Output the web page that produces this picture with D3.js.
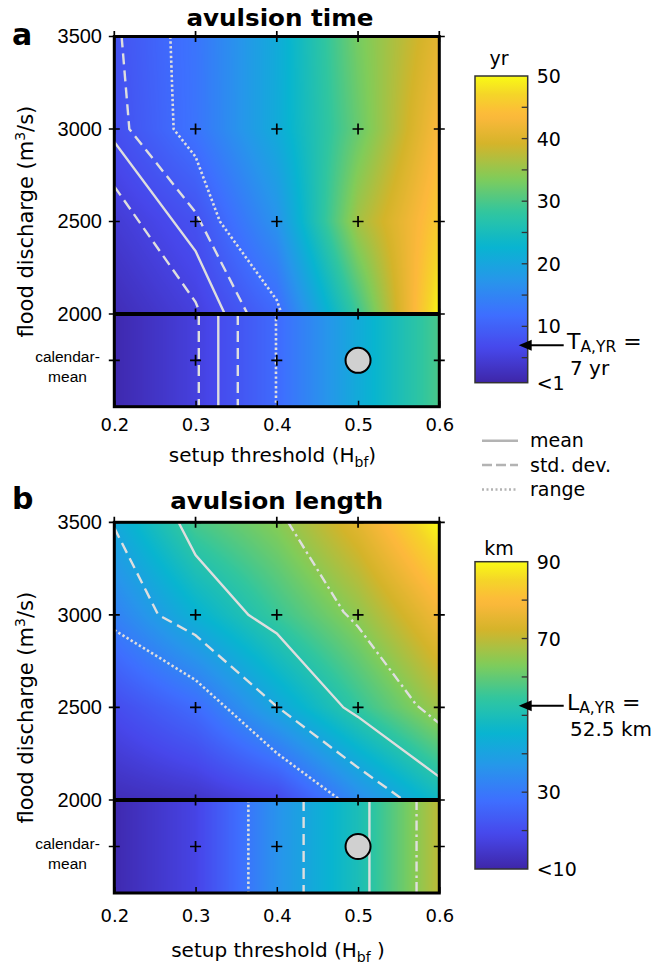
<!DOCTYPE html>
<html><head><meta charset="utf-8">
<script src="https://cdn.jsdelivr.net/npm/d3@7"></script>
<style>body{margin:0;background:#fff}</style>
</head><body>
<svg id="chart" width="656" height="967"></svg>
<script>
// ================= DATA =================
const setupThresholds = [0.2, 0.3, 0.4, 0.5, 0.6];
const floodDischarges = [3500, 3000, 2500, 2000];
const calendarLabel = "calendar-mean";
const calendarMarker = 0.5;   // setup threshold of the calendar-mean reference run

// avulsion time (yr) — rows follow floodDischarges
const timeGrid = [
  [8.0, 12.7, 21, 33, 41],
  [7.5, 12.6, 21, 32, 43.5],
  [4.5, 7.8, 17, 36, 46],
  [2.2, 5.3, 11, 29, 50]
];
const timeCalendar = [1.5, 5.3, 11.3, 21, 30];
// contour lines: [setup threshold, flood discharge]
const timeMean    = [[0.2,2930],[0.3,2340],[0.336,2000]];
const timeStdLow  = [[0.2,2690],[0.3,2065],[0.306,2000]];
const timeStdHigh = [[0.209,3500],[0.2185,3000],[0.3,2550],[0.364,2000]];
const timeRange   = [[0.269,3500],[0.273,3000],[0.3,2850],[0.33,2500],[0.4,2075],[0.406,2000]];
const timeCalendarLines = {stdLow:0.304, mean:0.328, stdHigh:0.352, range:0.399};
const timeTicks = [1,10,20,30,40,50];
const timeTickLabels = ["<1","10","20","30","40","50"];
const timeMinorTicks = [5,15,25,35,45];
const timeYR = 7;

// avulsion length (km)
const lengthGrid = [
  [42, 57, 64, 75, 90],
  [32, 44.5, 55.3, 65, 78],
  [20, 27, 41.2, 54.6, 66.8],
  [12, 14, 18.7, 34.2, 47.7]
];
const lengthCalendar = [11, 18, 36, 50, 70];
const lengthMean    = [[0.279,3500],[0.3,3323],[0.365,3000],[0.4,2900],[0.482,2500],[0.5,2449],[0.6,2125]];
const lengthStdLow  = [[0.2,3470],[0.254,3000],[0.3,2890],[0.4,2505],[0.5,2175],[0.556,2000]];
const lengthStdHigh = [[0.414,3500],[0.482,3017],[0.5,2936],[0.572,2512],[0.6,2414]];
const lengthRange   = [[0.2,2918],[0.3,2648],[0.4,2253],[0.478,2000]];
const lengthCalendarLines = {stdLow:0.433, mean:0.514, stdHigh:0.572, range:0.365};
const lengthTicks = [10,30,70,90];
const lengthTickLabels = ["<10","30","70","90"];
const lengthMinorTicks = [20,40,50,60,80];
const lengthYR = 52.5;

const legendItems = ["mean","std. dev.","range"];

// parula-like colormap
const parulaStops  = [0,0.111,0.222,0.333,0.444,0.556,0.667,0.778,0.87,0.94,1];
const parulaColors = ["#3e26a8","#4747eb","#3e6fff","#2796eb","#08b5d0","#31c69f","#81cc59","#d4b42a","#fdb83c","#f5d528","#f9fb15"];

// ================= DRAWING =================
const svg = d3.select("#chart");
svg.append("rect").attr("width",656).attr("height",967).attr("fill","#fff");
const parula = d3.scaleLinear().domain(parulaStops).range(parulaColors).interpolate(d3.interpolateRgb).clamp(true);
const LUT = d3.range(512).map(i => d3.rgb(parula(i/511)));

const FONT = "'DejaVu Sans', sans-serif";
const FONT2 = "'Liberation Sans', Arial, sans-serif";
const lineColor = "#dedede";

const panels = [
  {letter:"a", title:"avulsion time", titleLen:187, grid:timeGrid, cal:timeCalendar,
   lines:{mean:timeMean, stdLow:timeStdLow, stdHigh:timeStdHigh, range:timeRange}, calLines:timeCalendarLines,
   cDomain:[1,50], ticks:timeTicks, tickLabels:timeTickLabels, minor:timeMinorTicks, unit:"yr",
   yr:timeYR, sym:"T", yrText:"7 yr", highDash:"11,6", xSpace:"",
   L:{top:36.5, y2000:314, bottom:406.7, cbTop:76, cbBottom:382.7, titleX:280, titleY:26, letterY:45,
      xTickPad:12, xTitleY:462, xTitleX:272.5, yTitleY:221.6, unitY:65, annoY:349, anno2Y:375}},
  {letter:"b", title:"avulsion length", titleLen:213, grid:lengthGrid, cal:lengthCalendar,
   lines:{mean:lengthMean, stdLow:lengthStdLow, stdHigh:lengthStdHigh, range:lengthRange}, calLines:lengthCalendarLines,
   cDomain:[10,90], ticks:lengthTicks, tickLabels:lengthTickLabels, minor:lengthMinorTicks, unit:"km",
   yr:lengthYR, sym:"L", yrText:"52.5 km", highDash:"10,4,2.5,4", xSpace:" ",
   L:{top:522.3, y2000:800, bottom:893, cbTop:561.7, cbBottom:869, titleX:276.7, titleY:509.3, letterY:509.3,
      xTickPad:16, xTitleY:957, xTitleX:278, yTitleY:707.7, unitY:555, annoY:710, anno2Y:736}}
];
const xLeft = 114.3, xRight = 439.3, cbLeft = 475, cbRight = 527.7;
const dashes = {mean:null, stdLow:"11,6", range:"2.4,2.4"};

function idx(arr, v){
  let i = d3.bisectRight(arr, v) - 1;
  i = Math.max(0, Math.min(arr.length-2, i));
  const t = Math.max(0, Math.min(1, (v-arr[i])/(arr[i+1]-arr[i])));
  return [i,t];
}

panels.forEach((p, pi) => {
  const L = p.L;
  const g = svg.append("g");
  const x = d3.scaleLinear().domain([0.2,0.6]).range([xLeft,xRight]);
  const y = d3.scaleLinear().domain([2000,3500]).range([L.y2000, L.top]);
  const band = d3.scaleBand().domain([calendarLabel]).range([L.y2000, L.bottom]);
  const bandMid = band(calendarLabel) + band.bandwidth()/2;
  const cNorm = d3.scaleLinear().domain(p.cDomain).range([0,1]).clamp(true);

  // ---- heatmap raster ----
  const qAsc = floodDischarges.slice().reverse();
  const gridAsc = p.grid.slice().reverse();
  const w = Math.round(xRight-xLeft), h = Math.round(L.bottom-L.top);
  const cv = document.createElement("canvas"); cv.width = w; cv.height = h;
  const ctx = cv.getContext("2d"); const img = ctx.createImageData(w,h);
  for (let j=0;j<h;j++){
    const py = L.top + (j+0.5)*(L.bottom-L.top)/h;
    for (let i=0;i<w;i++){
      const px = xLeft + (i+0.5)*(xRight-xLeft)/w;
      const sx = x.invert(px);
      const [ix,tx] = idx(setupThresholds, sx);
      let v;
      if (py <= L.y2000){
        const [iy,ty] = idx(qAsc, y.invert(py));
        const a = gridAsc[iy][ix]*(1-tx)+gridAsc[iy][ix+1]*tx;
        const b = gridAsc[iy+1][ix]*(1-tx)+gridAsc[iy+1][ix+1]*tx;
        v = a*(1-ty)+b*ty;
      } else {
        v = p.cal[ix]*(1-tx)+p.cal[ix+1]*tx;
      }
      const c = LUT[Math.round(cNorm(v)*511)];
      const k = (j*w+i)*4;
      img.data[k]=c.r; img.data[k+1]=c.g; img.data[k+2]=c.b; img.data[k+3]=255;
    }
  }
  ctx.putImageData(img,0,0);
  g.append("image").attr("href", cv.toDataURL()).attr("x",xLeft).attr("y",L.top)
    .attr("width",xRight-xLeft).attr("height",L.bottom-L.top).attr("preserveAspectRatio","none");

  // ---- contour lines ----
  const clipId = "clip"+pi;
  svg.append("clipPath").attr("id",clipId).append("rect")
    .attr("x",xLeft).attr("y",L.top).attr("width",xRight-xLeft).attr("height",L.bottom-L.top);
  const lg = g.append("g").attr("clip-path",`url(#${clipId})`);
  const line = d3.line().x(d=>x(d[0])).y(d=>y(d[1]));
  const dashOf = k => k==="stdHigh" ? p.highDash : dashes[k];
  ["range","stdLow","stdHigh","mean"].forEach(k => {
    const sw = k==="range" ? 2.6 : 2.4;
    lg.append("path").attr("d", line(p.lines[k])).attr("fill","none")
      .attr("stroke", lineColor).attr("stroke-width", sw)
      .attr("stroke-dasharray", dashOf(k));
    lg.append("line").attr("x1",x(p.calLines[k])).attr("x2",x(p.calLines[k]))
      .attr("y1",L.y2000).attr("y2",L.bottom)
      .attr("stroke", lineColor).attr("stroke-width", sw)
      .attr("stroke-dasharray", dashOf(k));
  });

  // ---- border & 2000 line ----
  g.append("rect").attr("x",xLeft).attr("y",L.top).attr("width",xRight-xLeft).attr("height",L.bottom-L.top)
    .attr("fill","none").attr("stroke","#000").attr("stroke-width",3);
  g.append("line").attr("x1",xLeft).attr("x2",xRight).attr("y1",y(2000)).attr("y2",y(2000))
    .attr("stroke","#000").attr("stroke-width",4);

  // ---- crosses at grid points ----
  const pts = [];
  setupThresholds.forEach(s => {
    floodDischarges.forEach(q => pts.push([x(s), y(q)]));
    pts.push([x(s), bandMid]);
  });
  g.append("g").selectAll("path").data(pts).join("path")
    .attr("d", d => `M${d[0]-5.5},${d[1]}H${d[0]+5.5}M${d[0]},${d[1]-5.5}V${d[1]+5.5}`)
    .attr("stroke","#000").attr("stroke-width",1.7);

  // calendar-mean marker
  g.append("circle").attr("cx",x(calendarMarker)).attr("cy",bandMid).attr("r",12.5)
    .attr("fill","#d0d0d0").attr("stroke","#000").attr("stroke-width",2);

  // ---- axes ----
  const xa = g.append("g").attr("transform",`translate(0,${L.bottom})`)
    .call(d3.axisBottom(x).tickValues(setupThresholds).tickSize(-6).tickPadding(L.xTickPad).tickFormat(d3.format(".1f")));
  xa.select(".domain").remove();
  xa.selectAll("line").attr("stroke","#000").attr("stroke-width",1.5);
  xa.selectAll("text").attr("font-family",FONT).attr("font-size",18).attr("fill","#000");

  const ya = g.append("g").attr("transform",`translate(${xLeft},0)`)
    .call(d3.axisLeft(y).tickValues(floodDischarges).tickSize(0).tickPadding(12.3).tickFormat(d3.format("d")));
  ya.select(".domain").remove();
  ya.selectAll("text").attr("font-family",FONT2).attr("font-size",20).attr("fill","#000");

  const calT = g.append("text").attr("font-family",FONT2).attr("font-size",15.5).attr("text-anchor","middle");
  calT.append("tspan").attr("x",67.5).attr("y",bandMid+2).text("calendar-");
  calT.append("tspan").attr("x",67.5).attr("y",bandMid+22).text("mean");

  // axis titles
  const xt = g.append("text").attr("x",L.xTitleX).attr("y",L.xTitleY).attr("text-anchor","middle")
    .attr("font-family",FONT).attr("font-size",20);
  xt.append("tspan").text("setup threshold (H");
  xt.append("tspan").attr("font-size",14).attr("dy",5).text("bf");
  xt.append("tspan").attr("dy",-5).text(p.xSpace+")");

  const yt = g.append("text").attr("transform",`translate(33,${L.yTitleY}) rotate(-90)`).attr("text-anchor","middle")
    .attr("font-family",FONT).attr("font-size",21);
  yt.append("tspan").text("flood discharge (m");
  yt.append("tspan").attr("font-size",14).attr("dy",-8).text("3");
  yt.append("tspan").attr("dy",8).text("/s)");

  // title & panel letter
  g.append("text").attr("x",L.titleX).attr("y",L.titleY).attr("text-anchor","middle")
    .attr("font-family",FONT).attr("font-weight","bold").attr("font-size",22.5)
    .attr("textLength",p.titleLen).attr("lengthAdjust","spacingAndGlyphs").text(p.title);
  g.append("text").attr("x",12).attr("y",L.letterY).attr("font-family",FONT).attr("font-weight","bold")
    .attr("font-size",30).text(p.letter);

  // ---- colorbar ----
  const cb = d3.scaleLinear().domain(p.cDomain).range([L.cbBottom, L.cbTop]);
  const gid = "grad"+pi;
  const grad = svg.append("defs").append("linearGradient").attr("id",gid)
    .attr("x1",0).attr("y1",1).attr("x2",0).attr("y2",0);
  d3.range(0,1.0001,0.02).forEach(t => grad.append("stop").attr("offset",t).attr("stop-color",parula(t)));
  g.append("rect").attr("x",cbLeft).attr("y",L.cbTop).attr("width",cbRight-cbLeft).attr("height",L.cbBottom-L.cbTop)
    .attr("fill",`url(#${gid})`).attr("stroke","#333").attr("stroke-width",1.5);
  const inner = p.ticks.concat(p.minor).filter(v => v>p.cDomain[0] && v<p.cDomain[1]);
  g.append("g").selectAll("line").data(inner).join("line")
    .attr("x1",cbRight-6).attr("x2",cbRight).attr("y1",d=>cb(d)).attr("y2",d=>cb(d))
    .attr("stroke","#333").attr("stroke-width",1.3);
  g.append("g").selectAll("text").data(p.ticks).join("text")
    .attr("x",cbRight+9).attr("y",d=>cb(d)+7).attr("font-family",FONT).attr("font-size",19)
    .text((d,i)=>p.tickLabels[i]);
  g.append("text").attr("x",499).attr("y",L.unitY).attr("text-anchor","middle")
    .attr("font-family",FONT).attr("font-size",19).text(p.unit);

  // reference value arrow
  const ay = cb(p.yr);
  g.append("line").attr("x1",cbRight+36).attr("x2",cbRight-2).attr("y1",ay).attr("y2",ay)
    .attr("stroke","#000").attr("stroke-width",2);
  g.append("path").attr("d",`M${cbRight-9},${ay}L${cbRight+4},${ay-5.5}L${cbRight+4},${ay+5.5}Z`).attr("fill","#000");
  const an = g.append("text").attr("x",567).attr("y",L.annoY).attr("font-family",FONT).attr("font-size",22);
  an.append("tspan").text(p.sym);
  an.append("tspan").attr("font-size",15.5).attr("dy",3).text("A,YR");
  an.append("tspan").attr("dy",-3).text(" =");
  g.append("text").attr("x",570).attr("y",L.anno2Y).attr("font-family",FONT).attr("font-size",20).text(p.yrText);
});

// ---- legend ----
const legDash = [null, "10,4", "2,2.5"];
const legY = [440.7, 465, 489.5];
const lgd = svg.append("g");
legendItems.forEach((name,i) => {
  lgd.append("line").attr("x1",482).attr("x2",518).attr("y1",legY[i]).attr("y2",legY[i])
    .attr("stroke","#b3b3b3").attr("stroke-width",2.5).attr("stroke-dasharray",legDash[i]);
  lgd.append("text").attr("x",530).attr("y",legY[i]+6.5).attr("font-family",FONT).attr("font-size",19).text(name);
});
</script>
</body></html>
